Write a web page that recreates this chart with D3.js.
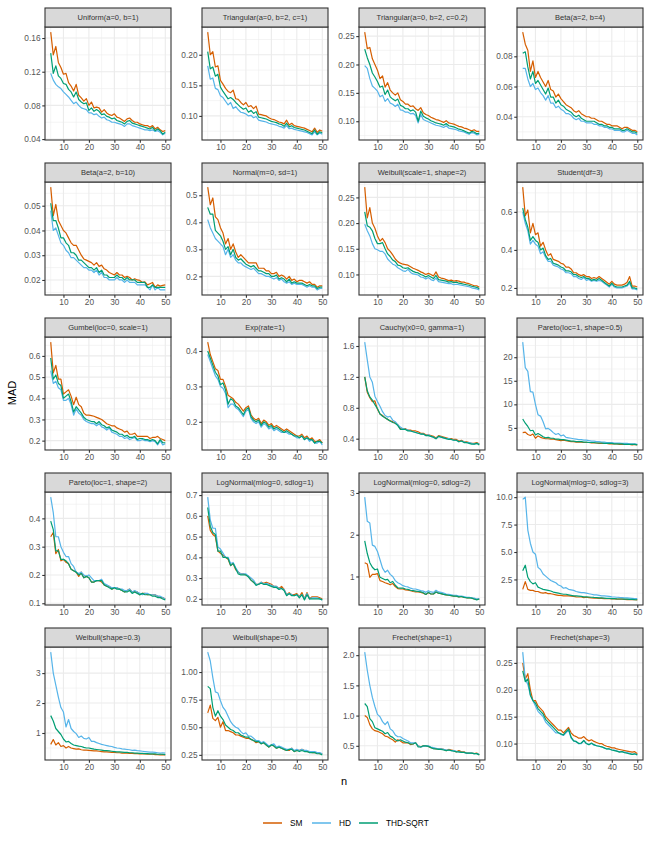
<!DOCTYPE html>
<html>
<head>
<meta charset="utf-8">
<script src="https://cdn.jsdelivr.net/npm/d3@7"></script>
<style>
  body { margin: 0; background: #fff; }
  text { font-family: "Liberation Sans", Arial, sans-serif; }
</style>
</head>
<body>
<div id="canvas"></div>
<script>
// facets and methods
const panels = ["Uniform(a=0, b=1)", "Triangular(a=0, b=2, c=1)", "Triangular(a=0, b=2, c=0.2)", "Beta(a=2, b=4)",
  "Beta(a=2, b=10)", "Normal(m=0, sd=1)", "Weibull(scale=1, shape=2)", "Student(df=3)",
  "Gumbel(loc=0, scale=1)", "Exp(rate=1)", "Cauchy(x0=0, gamma=1)", "Pareto(loc=1, shape=0.5)",
  "Pareto(loc=1, shape=2)", "LogNormal(mlog=0, sdlog=1)", "LogNormal(mlog=0, sdlog=2)", "LogNormal(mlog=0, sdlog=3)",
  "Weibull(shape=0.3)", "Weibull(shape=0.5)", "Frechet(shape=1)", "Frechet(shape=3)"];
const methods = ["SM", "HD", "THD-SQRT"];
const methodColours = ["#D55E00", "#56B4E9", "#009E73"];
const nStart = 5;
const xTicks = [10, 20, 30, 40, 50];

// y tick labels per panel
const yTicks = [
  ["0.04", "0.08", "0.12", "0.16"], ["0.10", "0.15", "0.20"], ["0.10", "0.15", "0.20", "0.25"], ["0.04", "0.06", "0.08"],
  ["0.02", "0.03", "0.04", "0.05"], ["0.2", "0.3", "0.4", "0.5"], ["0.10", "0.15", "0.20", "0.25"], ["0.2", "0.4", "0.6"],
  ["0.2", "0.3", "0.4", "0.5", "0.6"], ["0.2", "0.3", "0.4"], ["0.4", "0.8", "1.2", "1.6"], ["5", "10", "15", "20"],
  ["0.1", "0.2", "0.3", "0.4"], ["0.2", "0.3", "0.4", "0.5", "0.6", "0.7"], ["1", "2", "3"], ["2.5", "5.0", "7.5", "10.0"],
  ["1", "2", "3"], ["0.25", "0.50", "0.75", "1.00"], ["0.5", "1.0", "1.5", "2.0"], ["0.10", "0.15", "0.20", "0.25"]
];

// MAD values for n = 5..50, one array per panel and method
const smValues = [
  [0.167,0.140,0.150,0.131,0.125,0.117,0.118,0.107,0.103,0.097,0.105,0.092,0.089,0.085,0.088,0.080,0.084,0.077,0.078,0.077,0.072,0.075,0.071,0.069,0.068,0.070,0.066,0.065,0.063,0.061,0.064,0.065,0.062,0.060,0.060,0.058,0.057,0.056,0.056,0.054,0.056,0.052,0.054,0.051,0.049,0.050],
  [0.237,0.200,0.205,0.180,0.182,0.158,0.152,0.145,0.140,0.138,0.142,0.128,0.127,0.122,0.118,0.122,0.115,0.117,0.112,0.116,0.103,0.102,0.101,0.100,0.097,0.095,0.094,0.092,0.090,0.089,0.087,0.093,0.085,0.088,0.084,0.083,0.082,0.081,0.080,0.078,0.076,0.074,0.080,0.073,0.077,0.075],
  [0.257,0.228,0.230,0.210,0.200,0.190,0.175,0.180,0.160,0.168,0.155,0.150,0.146,0.150,0.138,0.135,0.130,0.130,0.126,0.127,0.122,0.119,0.124,0.115,0.112,0.110,0.107,0.105,0.103,0.102,0.100,0.098,0.101,0.097,0.096,0.095,0.093,0.091,0.090,0.088,0.087,0.085,0.083,0.085,0.082,0.082],
  [0.096,0.088,0.084,0.070,0.077,0.066,0.070,0.066,0.063,0.060,0.064,0.058,0.057,0.053,0.055,0.052,0.050,0.048,0.047,0.046,0.044,0.043,0.044,0.042,0.041,0.040,0.040,0.039,0.039,0.038,0.037,0.037,0.036,0.035,0.035,0.034,0.034,0.034,0.033,0.032,0.033,0.033,0.032,0.031,0.031,0.030],
  [0.0575,0.046,0.0505,0.044,0.042,0.040,0.039,0.037,0.035,0.034,0.034,0.032,0.030,0.0285,0.028,0.0275,0.027,0.026,0.027,0.0255,0.026,0.0245,0.024,0.023,0.0225,0.022,0.023,0.022,0.022,0.021,0.0215,0.021,0.020,0.0205,0.020,0.0198,0.019,0.0192,0.018,0.0185,0.019,0.017,0.018,0.0175,0.0178,0.018],
  [0.53,0.465,0.49,0.42,0.41,0.38,0.36,0.32,0.34,0.30,0.32,0.29,0.27,0.28,0.27,0.26,0.25,0.25,0.25,0.25,0.23,0.23,0.23,0.22,0.22,0.21,0.21,0.215,0.20,0.205,0.20,0.19,0.20,0.185,0.19,0.18,0.185,0.185,0.18,0.175,0.18,0.17,0.17,0.16,0.165,0.165],
  [0.27,0.21,0.23,0.20,0.19,0.175,0.165,0.17,0.162,0.15,0.145,0.138,0.13,0.125,0.122,0.12,0.119,0.118,0.115,0.112,0.11,0.108,0.105,0.103,0.1,0.102,0.1,0.097,0.105,0.095,0.093,0.092,0.09,0.088,0.089,0.087,0.088,0.087,0.085,0.085,0.083,0.082,0.08,0.078,0.078,0.075],
  [0.73,0.58,0.61,0.49,0.54,0.48,0.49,0.42,0.44,0.40,0.37,0.38,0.35,0.345,0.34,0.33,0.325,0.31,0.31,0.30,0.28,0.28,0.27,0.265,0.27,0.26,0.26,0.25,0.255,0.25,0.26,0.25,0.24,0.23,0.22,0.235,0.22,0.215,0.215,0.215,0.22,0.23,0.26,0.21,0.21,0.205],
  [0.665,0.52,0.555,0.49,0.49,0.42,0.43,0.44,0.41,0.37,0.405,0.37,0.36,0.33,0.32,0.32,0.318,0.315,0.31,0.305,0.30,0.29,0.28,0.275,0.27,0.27,0.26,0.255,0.25,0.24,0.245,0.23,0.23,0.235,0.22,0.22,0.22,0.22,0.22,0.21,0.215,0.215,0.22,0.21,0.205,0.2],
  [0.425,0.39,0.37,0.35,0.345,0.32,0.32,0.30,0.275,0.27,0.265,0.255,0.25,0.24,0.23,0.24,0.245,0.22,0.21,0.205,0.21,0.195,0.205,0.20,0.19,0.195,0.185,0.19,0.185,0.18,0.175,0.18,0.175,0.17,0.165,0.16,0.16,0.165,0.155,0.16,0.15,0.155,0.145,0.145,0.15,0.14],
  [1.2,1.0,0.93,0.88,0.89,0.78,0.72,0.70,0.67,0.65,0.63,0.62,0.60,0.58,0.53,0.52,0.53,0.51,0.51,0.50,0.50,0.49,0.47,0.47,0.45,0.45,0.44,0.43,0.41,0.44,0.43,0.42,0.41,0.40,0.40,0.39,0.39,0.37,0.38,0.36,0.36,0.35,0.34,0.34,0.35,0.33],
  [4.0,4.1,3.6,3.4,3.7,2.8,3.3,3.0,2.8,2.7,2.7,2.6,2.6,2.5,2.4,2.3,2.4,2.3,2.2,2.1,2.1,2.0,2.0,2.0,1.9,1.9,1.9,1.8,1.8,1.8,1.7,1.7,1.7,1.7,1.6,1.6,1.6,1.6,1.5,1.5,1.5,1.5,1.5,1.4,1.5,1.4],
  [0.335,0.35,0.275,0.29,0.25,0.255,0.245,0.24,0.22,0.215,0.21,0.195,0.21,0.19,0.195,0.19,0.175,0.175,0.18,0.18,0.175,0.165,0.16,0.16,0.15,0.155,0.155,0.15,0.145,0.14,0.145,0.15,0.14,0.14,0.14,0.13,0.135,0.135,0.13,0.13,0.13,0.13,0.125,0.12,0.12,0.115],
  [0.60,0.53,0.51,0.50,0.43,0.42,0.41,0.40,0.39,0.36,0.37,0.34,0.33,0.32,0.32,0.315,0.31,0.29,0.28,0.27,0.27,0.28,0.275,0.28,0.275,0.27,0.26,0.26,0.25,0.26,0.245,0.22,0.23,0.22,0.22,0.225,0.21,0.23,0.20,0.23,0.20,0.21,0.21,0.21,0.205,0.20],
  [1.33,1.3,0.98,1.05,1.05,1.07,0.9,0.88,0.85,0.83,0.8,0.83,0.76,0.71,0.7,0.7,0.68,0.67,0.66,0.64,0.63,0.63,0.62,0.6,0.57,0.61,0.58,0.58,0.63,0.6,0.59,0.57,0.56,0.55,0.54,0.53,0.53,0.51,0.52,0.5,0.49,0.49,0.48,0.46,0.45,0.46],
  [1.6,2.3,1.6,1.5,1.5,1.4,1.4,1.3,1.25,1.3,1.2,1.2,1.15,1.1,1.05,1.05,1.0,1.0,1.0,0.98,0.95,0.92,0.9,0.9,0.85,0.88,0.85,0.82,0.8,0.8,0.78,0.77,0.76,0.75,0.74,0.72,0.72,0.7,0.7,0.7,0.68,0.67,0.66,0.66,0.65,0.64],
  [0.62,0.78,0.6,0.68,0.55,0.58,0.5,0.55,0.5,0.48,0.46,0.47,0.44,0.43,0.43,0.42,0.41,0.4,0.4,0.39,0.38,0.37,0.37,0.36,0.35,0.35,0.34,0.34,0.33,0.33,0.33,0.32,0.32,0.31,0.31,0.3,0.3,0.3,0.29,0.29,0.29,0.28,0.28,0.27,0.28,0.27],
  [0.63,0.7,0.58,0.56,0.59,0.5,0.55,0.47,0.47,0.46,0.45,0.43,0.43,0.42,0.41,0.4,0.4,0.39,0.38,0.36,0.37,0.35,0.36,0.34,0.32,0.34,0.33,0.31,0.32,0.31,0.3,0.29,0.29,0.31,0.28,0.29,0.29,0.3,0.29,0.28,0.28,0.27,0.27,0.27,0.26,0.26],
  [1.0,0.97,0.85,0.78,0.75,0.74,0.72,0.7,0.66,0.65,0.62,0.6,0.56,0.6,0.58,0.55,0.55,0.55,0.52,0.53,0.55,0.5,0.48,0.5,0.5,0.49,0.47,0.46,0.45,0.45,0.45,0.44,0.42,0.44,0.43,0.42,0.4,0.42,0.4,0.4,0.38,0.38,0.38,0.37,0.38,0.35],
  [0.25,0.22,0.23,0.2,0.18,0.18,0.17,0.165,0.16,0.15,0.145,0.14,0.135,0.13,0.125,0.125,0.12,0.125,0.13,0.12,0.115,0.113,0.11,0.11,0.113,0.108,0.105,0.107,0.104,0.102,0.1,0.1,0.097,0.095,0.094,0.092,0.092,0.09,0.089,0.088,0.087,0.086,0.085,0.084,0.085,0.081]
];

const hdValues = [
  [0.118,0.110,0.105,0.102,0.100,0.096,0.093,0.090,0.086,0.082,0.084,0.080,0.077,0.076,0.075,0.071,0.071,0.069,0.070,0.067,0.065,0.066,0.063,0.062,0.060,0.060,0.059,0.058,0.057,0.055,0.058,0.058,0.056,0.055,0.054,0.053,0.052,0.051,0.051,0.050,0.051,0.049,0.050,0.048,0.045,0.047],
  [0.182,0.160,0.162,0.145,0.143,0.133,0.130,0.124,0.118,0.122,0.112,0.115,0.110,0.106,0.105,0.103,0.100,0.101,0.097,0.099,0.093,0.092,0.091,0.090,0.088,0.087,0.086,0.085,0.083,0.082,0.080,0.084,0.079,0.080,0.078,0.077,0.076,0.075,0.074,0.073,0.071,0.069,0.074,0.069,0.072,0.070],
  [0.198,0.193,0.175,0.162,0.158,0.153,0.143,0.146,0.135,0.140,0.132,0.130,0.126,0.130,0.120,0.119,0.116,0.116,0.113,0.114,0.110,0.097,0.112,0.103,0.101,0.099,0.097,0.095,0.093,0.092,0.091,0.089,0.092,0.088,0.087,0.086,0.085,0.083,0.082,0.081,0.079,0.077,0.080,0.079,0.076,0.077],
  [0.072,0.072,0.065,0.060,0.062,0.058,0.059,0.056,0.054,0.051,0.054,0.049,0.049,0.046,0.047,0.045,0.044,0.042,0.042,0.041,0.039,0.038,0.039,0.037,0.037,0.036,0.036,0.036,0.035,0.035,0.034,0.034,0.033,0.033,0.032,0.032,0.031,0.031,0.031,0.030,0.030,0.031,0.030,0.029,0.029,0.028],
  [0.048,0.040,0.041,0.038,0.035,0.034,0.032,0.031,0.029,0.029,0.028,0.027,0.026,0.025,0.025,0.024,0.024,0.023,0.024,0.022,0.023,0.021,0.021,0.020,0.020,0.020,0.021,0.020,0.020,0.019,0.020,0.019,0.019,0.019,0.018,0.018,0.018,0.018,0.017,0.016,0.018,0.016,0.017,0.016,0.016,0.016],
  [0.41,0.38,0.36,0.34,0.33,0.32,0.31,0.28,0.30,0.27,0.28,0.26,0.25,0.25,0.24,0.235,0.23,0.225,0.23,0.22,0.21,0.21,0.205,0.20,0.20,0.195,0.19,0.195,0.185,0.19,0.18,0.175,0.18,0.17,0.175,0.17,0.17,0.17,0.165,0.16,0.165,0.16,0.16,0.15,0.155,0.155],
  [0.198,0.185,0.175,0.16,0.15,0.148,0.145,0.145,0.14,0.13,0.125,0.12,0.118,0.113,0.11,0.107,0.106,0.11,0.104,0.101,0.1,0.099,0.095,0.094,0.091,0.094,0.09,0.088,0.093,0.086,0.085,0.084,0.083,0.082,0.082,0.08,0.081,0.08,0.079,0.078,0.077,0.076,0.074,0.073,0.072,0.07],
  [0.6,0.54,0.5,0.43,0.45,0.43,0.42,0.38,0.39,0.36,0.34,0.34,0.32,0.315,0.31,0.30,0.295,0.28,0.28,0.275,0.26,0.26,0.25,0.245,0.255,0.24,0.245,0.235,0.24,0.235,0.24,0.235,0.225,0.215,0.205,0.22,0.205,0.2,0.2,0.2,0.205,0.21,0.225,0.195,0.195,0.19],
  [0.53,0.47,0.48,0.45,0.44,0.39,0.39,0.40,0.37,0.32,0.35,0.33,0.32,0.30,0.29,0.285,0.28,0.28,0.27,0.28,0.265,0.26,0.25,0.26,0.24,0.235,0.23,0.22,0.22,0.21,0.215,0.205,0.21,0.215,0.2,0.2,0.205,0.2,0.2,0.195,0.2,0.195,0.18,0.2,0.18,0.185],
  [0.39,0.37,0.35,0.33,0.32,0.30,0.295,0.28,0.24,0.25,0.25,0.24,0.235,0.225,0.215,0.23,0.235,0.21,0.20,0.195,0.2,0.185,0.195,0.19,0.18,0.185,0.175,0.18,0.175,0.17,0.17,0.17,0.165,0.165,0.16,0.155,0.155,0.16,0.15,0.155,0.145,0.15,0.14,0.14,0.145,0.135],
  [1.65,1.42,1.2,1.13,0.95,0.88,0.82,0.75,0.70,0.68,0.69,0.64,0.62,0.58,0.55,0.53,0.52,0.51,0.50,0.49,0.48,0.47,0.46,0.46,0.44,0.45,0.43,0.42,0.40,0.43,0.42,0.41,0.40,0.40,0.39,0.38,0.38,0.36,0.37,0.36,0.35,0.35,0.34,0.33,0.34,0.33],
  [23.2,17.8,17.0,12.7,12.6,10.0,7.8,7.5,6.3,4.8,4.9,4.5,4.0,3.6,3.8,3.3,3.5,3.0,2.9,2.8,2.7,2.6,2.5,2.5,2.4,2.4,2.3,2.2,2.2,2.1,2.1,2.0,2.0,1.9,1.9,1.9,1.8,1.8,1.8,1.7,1.7,1.7,1.6,1.6,1.6,1.5],
  [0.475,0.42,0.335,0.335,0.30,0.28,0.265,0.265,0.24,0.23,0.21,0.205,0.21,0.20,0.195,0.20,0.19,0.18,0.18,0.18,0.185,0.17,0.165,0.16,0.155,0.155,0.155,0.15,0.15,0.145,0.145,0.15,0.14,0.145,0.14,0.135,0.13,0.135,0.135,0.13,0.13,0.13,0.125,0.125,0.12,0.115],
  [0.69,0.58,0.54,0.54,0.45,0.44,0.42,0.40,0.40,0.37,0.375,0.35,0.33,0.32,0.32,0.32,0.31,0.30,0.29,0.27,0.27,0.28,0.27,0.275,0.27,0.265,0.26,0.26,0.25,0.25,0.245,0.22,0.225,0.22,0.215,0.22,0.21,0.22,0.20,0.225,0.20,0.205,0.205,0.205,0.20,0.195],
  [2.9,2.32,2.28,1.75,1.72,1.6,1.4,1.2,1.1,1.15,1.05,1.0,0.9,0.85,0.82,0.78,0.76,0.75,0.72,0.7,0.7,0.68,0.66,0.65,0.62,0.66,0.63,0.62,0.67,0.63,0.62,0.6,0.58,0.57,0.56,0.55,0.55,0.53,0.53,0.52,0.5,0.5,0.49,0.48,0.46,0.47],
  [9.8,10.0,7.0,5.8,5.0,4.8,3.6,3.4,3.0,2.8,2.6,2.4,2.3,2.2,2.0,1.9,1.7,1.75,1.6,1.55,1.5,1.4,1.35,1.3,1.3,1.25,1.2,1.15,1.1,1.1,1.05,1.0,1.0,0.98,0.95,0.92,0.9,0.88,0.86,0.85,0.83,0.82,0.8,0.78,0.75,0.75],
  [3.7,3.0,2.6,2.2,1.85,1.7,1.2,1.45,1.15,1.05,0.98,0.85,0.9,0.82,0.8,0.85,0.72,0.72,0.68,0.65,0.62,0.6,0.58,0.56,0.55,0.52,0.5,0.49,0.47,0.46,0.45,0.44,0.42,0.43,0.41,0.4,0.39,0.38,0.37,0.36,0.36,0.35,0.34,0.33,0.34,0.33],
  [1.18,1.1,0.95,0.82,0.81,0.74,0.68,0.65,0.6,0.55,0.52,0.5,0.49,0.46,0.44,0.45,0.42,0.42,0.4,0.38,0.38,0.36,0.37,0.35,0.33,0.34,0.35,0.32,0.33,0.32,0.31,0.3,0.3,0.31,0.29,0.3,0.29,0.3,0.29,0.29,0.28,0.28,0.28,0.27,0.27,0.26],
  [2.05,1.75,1.5,1.3,1.15,1.02,0.98,0.9,0.85,0.9,0.78,0.75,0.68,0.65,0.65,0.62,0.6,0.58,0.55,0.55,0.55,0.5,0.48,0.49,0.5,0.5,0.48,0.47,0.46,0.45,0.45,0.44,0.43,0.43,0.42,0.42,0.41,0.4,0.39,0.39,0.38,0.38,0.38,0.37,0.37,0.36],
  [0.27,0.22,0.21,0.19,0.18,0.17,0.16,0.155,0.15,0.14,0.135,0.13,0.125,0.12,0.12,0.117,0.115,0.12,0.125,0.11,0.105,0.103,0.1,0.1,0.105,0.1,0.098,0.1,0.097,0.096,0.095,0.094,0.092,0.09,0.09,0.088,0.088,0.086,0.085,0.085,0.084,0.083,0.082,0.08,0.081,0.079]
];

const thdValues = [
  [0.142,0.118,0.127,0.115,0.112,0.106,0.105,0.099,0.096,0.090,0.096,0.087,0.084,0.082,0.083,0.074,0.077,0.073,0.075,0.073,0.069,0.070,0.067,0.066,0.064,0.065,0.062,0.061,0.060,0.058,0.061,0.062,0.059,0.058,0.057,0.056,0.055,0.054,0.053,0.052,0.054,0.050,0.052,0.050,0.046,0.048],
  [0.205,0.177,0.180,0.165,0.168,0.147,0.140,0.134,0.128,0.130,0.127,0.122,0.118,0.114,0.111,0.113,0.106,0.109,0.104,0.107,0.098,0.097,0.096,0.095,0.093,0.091,0.090,0.089,0.087,0.086,0.083,0.088,0.082,0.084,0.081,0.080,0.079,0.078,0.077,0.075,0.073,0.071,0.077,0.070,0.074,0.072],
  [0.227,0.212,0.200,0.185,0.178,0.170,0.160,0.162,0.147,0.155,0.143,0.139,0.136,0.139,0.128,0.126,0.122,0.122,0.118,0.120,0.116,0.100,0.118,0.109,0.106,0.104,0.101,0.099,0.097,0.096,0.095,0.093,0.096,0.092,0.091,0.090,0.088,0.086,0.085,0.083,0.081,0.079,0.082,0.081,0.078,0.079],
  [0.082,0.083,0.073,0.065,0.070,0.062,0.064,0.061,0.058,0.055,0.059,0.053,0.053,0.049,0.051,0.048,0.047,0.045,0.044,0.043,0.041,0.040,0.041,0.039,0.038,0.037,0.037,0.037,0.037,0.036,0.035,0.035,0.034,0.034,0.033,0.033,0.032,0.032,0.032,0.031,0.031,0.032,0.031,0.030,0.030,0.029],
  [0.051,0.044,0.044,0.041,0.037,0.037,0.035,0.034,0.031,0.031,0.030,0.028,0.028,0.027,0.026,0.025,0.025,0.024,0.025,0.023,0.024,0.022,0.022,0.021,0.021,0.021,0.022,0.021,0.021,0.020,0.021,0.020,0.020,0.020,0.019,0.019,0.019,0.019,0.017,0.017,0.018,0.017,0.017,0.017,0.017,0.017],
  [0.455,0.43,0.43,0.37,0.36,0.35,0.33,0.30,0.31,0.28,0.30,0.27,0.26,0.265,0.255,0.245,0.24,0.235,0.24,0.23,0.22,0.22,0.215,0.21,0.21,0.20,0.20,0.205,0.19,0.195,0.19,0.18,0.19,0.175,0.18,0.175,0.175,0.175,0.17,0.165,0.17,0.165,0.165,0.155,0.16,0.16],
  [0.222,0.195,0.192,0.185,0.17,0.16,0.16,0.162,0.15,0.14,0.135,0.128,0.125,0.118,0.117,0.113,0.112,0.113,0.109,0.106,0.104,0.103,0.1,0.098,0.095,0.098,0.095,0.092,0.098,0.09,0.089,0.088,0.087,0.085,0.086,0.084,0.085,0.083,0.082,0.081,0.08,0.079,0.077,0.076,0.075,0.072],
  [0.62,0.56,0.52,0.45,0.47,0.45,0.44,0.40,0.41,0.37,0.35,0.355,0.33,0.325,0.32,0.31,0.305,0.29,0.29,0.285,0.27,0.27,0.26,0.255,0.26,0.25,0.25,0.24,0.245,0.24,0.25,0.24,0.23,0.22,0.21,0.225,0.21,0.205,0.205,0.205,0.21,0.215,0.235,0.2,0.2,0.195],
  [0.59,0.49,0.51,0.47,0.46,0.40,0.41,0.42,0.385,0.335,0.36,0.345,0.33,0.31,0.30,0.295,0.29,0.29,0.28,0.29,0.275,0.27,0.26,0.265,0.25,0.245,0.24,0.23,0.23,0.22,0.225,0.215,0.215,0.22,0.205,0.21,0.21,0.205,0.205,0.2,0.205,0.2,0.185,0.205,0.19,0.19],
  [0.40,0.38,0.36,0.34,0.33,0.305,0.31,0.29,0.25,0.265,0.26,0.245,0.24,0.23,0.22,0.235,0.24,0.215,0.205,0.2,0.205,0.19,0.2,0.195,0.185,0.19,0.18,0.185,0.18,0.175,0.17,0.175,0.17,0.165,0.16,0.16,0.155,0.16,0.15,0.155,0.15,0.15,0.14,0.145,0.145,0.14],
  [1.2,1.02,0.94,0.90,0.84,0.79,0.72,0.69,0.67,0.65,0.63,0.61,0.60,0.57,0.52,0.52,0.52,0.50,0.50,0.49,0.48,0.47,0.46,0.46,0.44,0.44,0.43,0.42,0.40,0.43,0.42,0.41,0.40,0.39,0.39,0.38,0.38,0.36,0.37,0.35,0.35,0.34,0.33,0.33,0.34,0.32],
  [6.9,6.0,5.3,4.4,4.5,3.5,3.8,3.5,3.1,2.9,3.0,2.8,2.8,2.6,2.6,2.5,2.5,2.4,2.3,2.2,2.2,2.1,2.1,2.1,2.0,2.0,1.9,1.9,1.9,1.8,1.8,1.8,1.7,1.7,1.7,1.7,1.6,1.6,1.6,1.6,1.5,1.5,1.5,1.5,1.5,1.4],
  [0.39,0.36,0.285,0.285,0.255,0.255,0.25,0.24,0.22,0.215,0.21,0.20,0.205,0.19,0.195,0.19,0.175,0.175,0.18,0.18,0.18,0.165,0.16,0.155,0.15,0.155,0.15,0.15,0.145,0.14,0.14,0.145,0.135,0.14,0.135,0.13,0.135,0.13,0.13,0.13,0.125,0.125,0.12,0.12,0.115,0.112],
  [0.64,0.55,0.52,0.51,0.43,0.43,0.40,0.40,0.395,0.36,0.37,0.345,0.32,0.315,0.315,0.315,0.305,0.29,0.28,0.265,0.27,0.275,0.27,0.27,0.265,0.26,0.255,0.255,0.245,0.25,0.24,0.215,0.225,0.215,0.215,0.22,0.205,0.22,0.195,0.22,0.2,0.2,0.2,0.2,0.2,0.195],
  [1.85,1.55,1.33,1.22,1.16,1.18,0.98,0.95,0.92,0.93,0.85,0.88,0.79,0.73,0.72,0.72,0.7,0.69,0.67,0.66,0.65,0.64,0.63,0.61,0.57,0.62,0.58,0.58,0.63,0.6,0.59,0.57,0.56,0.55,0.54,0.53,0.53,0.51,0.52,0.5,0.49,0.49,0.48,0.46,0.44,0.46],
  [3.3,3.8,2.7,2.3,2.1,2.2,1.8,1.7,1.6,1.55,1.5,1.45,1.35,1.3,1.25,1.2,1.15,1.15,1.1,1.05,1.0,1.0,0.98,0.95,0.92,0.92,0.9,0.88,0.86,0.85,0.83,0.82,0.8,0.78,0.77,0.75,0.75,0.73,0.72,0.72,0.7,0.7,0.68,0.68,0.66,0.65],
  [1.58,1.4,1.15,1.05,0.95,0.8,0.7,0.72,0.65,0.6,0.58,0.56,0.55,0.52,0.5,0.5,0.48,0.46,0.45,0.44,0.43,0.41,0.41,0.4,0.39,0.38,0.37,0.37,0.36,0.35,0.35,0.34,0.34,0.33,0.33,0.32,0.32,0.31,0.31,0.3,0.3,0.3,0.29,0.29,0.29,0.28],
  [0.87,0.85,0.68,0.6,0.65,0.6,0.57,0.52,0.5,0.48,0.47,0.45,0.45,0.43,0.42,0.41,0.41,0.39,0.38,0.37,0.37,0.35,0.36,0.34,0.32,0.34,0.33,0.31,0.32,0.31,0.3,0.29,0.3,0.3,0.28,0.29,0.28,0.29,0.28,0.28,0.27,0.27,0.27,0.26,0.26,0.25],
  [1.2,1.15,0.95,0.9,0.8,0.78,0.76,0.74,0.7,0.72,0.66,0.64,0.6,0.58,0.6,0.58,0.56,0.55,0.53,0.53,0.55,0.48,0.48,0.5,0.5,0.49,0.47,0.45,0.45,0.44,0.44,0.43,0.42,0.43,0.42,0.41,0.4,0.4,0.39,0.39,0.38,0.38,0.38,0.37,0.37,0.35],
  [0.235,0.215,0.22,0.19,0.18,0.175,0.165,0.16,0.155,0.145,0.14,0.135,0.13,0.125,0.12,0.118,0.116,0.122,0.127,0.112,0.105,0.104,0.1,0.101,0.106,0.1,0.098,0.101,0.098,0.096,0.095,0.094,0.092,0.09,0.09,0.088,0.087,0.086,0.084,0.085,0.083,0.082,0.081,0.08,0.081,0.079]
];

// layout
const W = 650, H = 850;
const colLeft = [45, 202, 359, 517],
  rowTop = [8, 163, 318, 473, 628],
  panelWidth = 126,
  stripHeight = 19,
  plotHeight = 113;

const svg = d3.select("#canvas")
  .append("svg")
  .attr("width", W)
  .attr("height", H);

const x = d3.scaleLinear()
  .domain([nStart - 2.25, 50 + 2.25])
  .range([0, panelWidth]);
const xMinor = [5, 15, 25, 35, 45];

panels.forEach((title, p) => {
  const col = p % 4, row = Math.floor(p / 4);
  const series = [smValues[p], hdValues[p], thdValues[p]];
  const all = series.flat();
  const [lo, hi] = d3.extent(all);
  const pad = (hi - lo) * 0.05;

  const y = d3.scaleLinear()
    .domain([lo - pad, hi + pad])
    .range([plotHeight, 0]);

  const g = svg.append("g")
    .attr("transform", "translate(" + colLeft[col] + "," + (rowTop[row] + stripHeight) + ")");

  // grid
  const majorY = yTicks[p].map(Number);
  const step = majorY[1] - majorY[0];
  const minorY = [majorY[0] - step / 2].concat(majorY.map(v => v + step / 2))
    .filter(v => v > y.domain()[0] && v < y.domain()[1]);

  g.selectAll(".minorY").data(minorY).join("line")
    .attr("x1", 0).attr("x2", panelWidth)
    .attr("y1", d => y(d)).attr("y2", d => y(d))
    .attr("stroke", "#EBEBEB").attr("stroke-width", 0.55);
  g.selectAll(".minorX").data(xMinor).join("line")
    .attr("y1", 0).attr("y2", plotHeight)
    .attr("x1", d => x(d)).attr("x2", d => x(d))
    .attr("stroke", "#EBEBEB").attr("stroke-width", 0.55);
  g.selectAll(".majorY").data(majorY).join("line")
    .attr("x1", 0).attr("x2", panelWidth)
    .attr("y1", d => y(d)).attr("y2", d => y(d))
    .attr("stroke", "#EBEBEB").attr("stroke-width", 1.1);
  g.selectAll(".majorX").data(xTicks).join("line")
    .attr("y1", 0).attr("y2", plotHeight)
    .attr("x1", d => x(d)).attr("x2", d => x(d))
    .attr("stroke", "#EBEBEB").attr("stroke-width", 1.1);

  // lines
  const line = d3.line()
    .x((d, i) => x(nStart + i))
    .y(d => y(d));
  series.forEach((vals, m) => {
    g.append("path")
      .datum(vals)
      .attr("fill", "none")
      .attr("stroke", methodColours[m])
      .attr("stroke-width", 1.2)
      .attr("stroke-linejoin", "round")
      .attr("d", line);
  });

  // border
  g.append("rect")
    .attr("width", panelWidth).attr("height", plotHeight)
    .attr("fill", "none").attr("stroke", "#333333").attr("stroke-width", 1.1);

  // y axis
  const yAxis = g.append("g")
    .call(d3.axisLeft(y).tickValues(majorY).tickSize(2.75).tickFormat((d, i) => yTicks[p][i]));
  yAxis.select(".domain").remove();
  yAxis.selectAll("line").attr("stroke", "#333333").attr("stroke-width", 1.1);
  yAxis.selectAll("text").attr("fill", "#555555").attr("font-size", 8.3).attr("x", -4.5)
    .attr("font-family", "Liberation Sans, Arial, sans-serif");

  // x axis
  const xAxis = g.append("g")
    .attr("transform", "translate(0," + plotHeight + ")")
    .call(d3.axisBottom(x).tickValues(xTicks).tickSize(2.75));
  xAxis.select(".domain").remove();
  xAxis.selectAll("line").attr("stroke", "#333333").attr("stroke-width", 1.1);
  xAxis.selectAll("text").attr("fill", "#555555").attr("font-size", 8.3).attr("y", 4.5)
    .attr("font-family", "Liberation Sans, Arial, sans-serif");

  // strip
  const strip = svg.append("g")
    .attr("transform", "translate(" + colLeft[col] + "," + rowTop[row] + ")");
  strip.append("rect")
    .attr("width", panelWidth).attr("height", stripHeight)
    .attr("fill", "#D9D9D9").attr("stroke", "#333333").attr("stroke-width", 1.1);
  strip.append("text")
    .attr("x", panelWidth / 2).attr("y", stripHeight / 2)
    .attr("dy", "0.35em")
    .attr("text-anchor", "middle")
    .attr("font-size", 7.5)
    .attr("fill", "#333333")
    .text(title);
});

// axis titles
svg.append("text")
  .attr("x", (colLeft[0] + colLeft[3] + panelWidth) / 2)
  .attr("y", 785)
  .attr("text-anchor", "middle")
  .attr("font-size", 11)
  .text("n");

svg.append("text")
  .attr("transform", "translate(16,393) rotate(-90)")
  .attr("text-anchor", "middle")
  .attr("font-size", 11)
  .text("MAD");

// legend
const legendX = [263, 312, 359];
const legend = svg.selectAll(".legend")
  .data(methods)
  .join("g")
  .attr("transform", (d, i) => "translate(" + legendX[i] + ",823)");
legend.append("line")
  .attr("x1", 0).attr("x2", 19)
  .attr("stroke", (d, i) => methodColours[i])
  .attr("stroke-width", 1.5);
legend.append("text")
  .attr("x", 27).attr("dy", "0.35em")
  .attr("font-size", 8.3)
  .attr("fill", "#000")
  .text(d => d);
</script>
</body>
</html>
